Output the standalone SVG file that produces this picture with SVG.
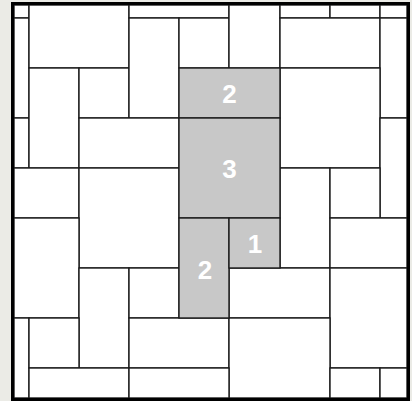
<svg xmlns="http://www.w3.org/2000/svg" width="412" height="401" viewBox="0 0 412 401">
<style>
.c{fill:#ffffff;stroke:#1c1c1c;stroke-width:1.4}
.g{fill:#c8c8c8;stroke:#1c1c1c;stroke-width:1.4}
.t{font-family:"Liberation Sans",Arial,sans-serif;font-weight:bold;font-size:26px;fill:#ffffff;text-anchor:middle}
</style>
<rect x="0" y="0" width="412" height="401" fill="#ebebe6"/>
<g id="tiles">
<rect id="n1" class="c" x="14" y="5" width="15" height="13"/>
<rect id="n2" class="c" x="14" y="18" width="15" height="100"/>
<rect id="n3" class="c" x="14" y="118" width="15" height="50"/>
<rect id="n4" class="c" x="29" y="5" width="100" height="63"/>
<rect id="n5" class="c" x="29" y="68" width="50" height="100"/>
<rect id="n6" class="c" x="79" y="68" width="50" height="50"/>
<rect id="n7" class="c" x="129" y="5" width="100" height="13"/>
<rect id="n8" class="c" x="129" y="18" width="50" height="100"/>
<rect id="n9" class="c" x="179" y="18" width="50" height="50"/>
<rect id="n10" class="c" x="229" y="5" width="51" height="63"/>
<rect id="n11" class="c" x="280" y="5" width="50" height="13"/>
<rect id="n12" class="c" x="330" y="5" width="50" height="13"/>
<rect id="n13" class="c" x="380" y="5" width="27" height="13"/>
<rect id="n14" class="c" x="280" y="18" width="100" height="50"/>
<rect id="n15" class="c" x="380" y="18" width="27" height="100"/>
<rect id="n18" class="c" x="79" y="118" width="100" height="50"/>
<rect id="n19" class="c" x="280" y="68" width="100" height="100"/>
<rect id="n20" class="c" x="380" y="118" width="27" height="100"/>
<rect id="n21" class="c" x="14" y="168" width="65" height="50"/>
<rect id="n22" class="c" x="79" y="168" width="100" height="100"/>
<rect id="n23" class="c" x="280" y="168" width="50" height="100"/>
<rect id="n24" class="c" x="330" y="168" width="50" height="50"/>
<rect id="n25" class="c" x="14" y="218" width="65" height="100"/>
<rect id="n28" class="c" x="330" y="218" width="77" height="50"/>
<rect id="n29" class="c" x="79" y="268" width="50" height="100"/>
<rect id="n30" class="c" x="129" y="268" width="50" height="50"/>
<rect id="n31" class="c" x="229" y="268" width="101" height="50"/>
<rect id="n32" class="c" x="330" y="268" width="77" height="100"/>
<rect id="n33" class="c" x="14" y="318" width="15" height="80"/>
<rect id="n34" class="c" x="29" y="318" width="50" height="50"/>
<rect id="n35" class="c" x="129" y="318" width="100" height="50"/>
<rect id="n36" class="c" x="229" y="318" width="101" height="80"/>
<rect id="n37" class="c" x="29" y="368" width="100" height="30"/>
<rect id="n38" class="c" x="129" y="368" width="100" height="30"/>
<rect id="n39" class="c" x="330" y="368" width="50" height="30"/>
<rect id="n40" class="c" x="380" y="368" width="27" height="30"/>
</g>
<g id="g2top"><rect class="g" x="179" y="68" width="101" height="50"/><text class="t" x="229.5" y="102.5">2</text></g>
<g id="g3"><rect class="g" x="179" y="118" width="101" height="100"/><text class="t" x="229.5" y="177.5">3</text></g>
<g id="g2low"><rect class="g" x="179" y="218" width="50" height="100"/><text class="t" x="205" y="279">2</text></g>
<g id="g1"><rect class="g" x="229" y="218" width="51" height="50"/><text class="t" x="255" y="253">1</text></g>
<rect id="frame" x="12.5" y="3.5" width="396" height="396" fill="none" stroke="#000000" stroke-width="3"/>
</svg>
